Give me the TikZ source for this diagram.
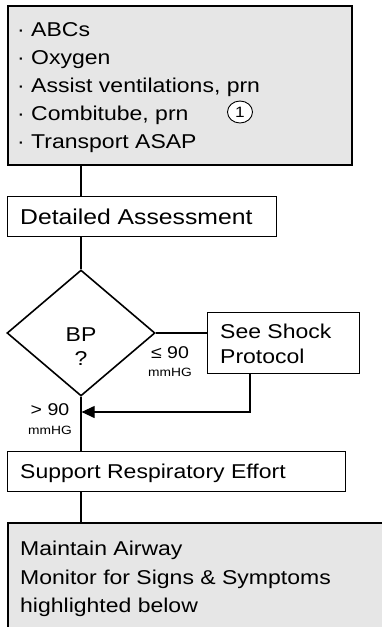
\documentclass[tikz,border=0pt]{standalone}
\usepackage{fontspec}
\setmainfont{Liberation Sans}[FakeStretch=1.15]
\usetikzlibrary{arrows.meta,shapes.geometric}
\definecolor{boxgray}{HTML}{E6E6E6}
\begin{document}
\begin{tikzpicture}[x=1pt,y=-1pt,
  thickbox/.style={draw=black, line width=2.2pt, fill=boxgray, rectangle, inner sep=0pt, anchor=north west},
  thinbox/.style={draw=black, line width=1.3pt, fill=white, rectangle, inner sep=0pt, anchor=north west},
  conn/.style={draw=black, line width=1.1pt},
  txt/.style={anchor=base west, inner sep=0pt, font=\fontsize{20}{24}\selectfont},
  ctxt/.style={anchor=base, inner sep=0pt, font=\fontsize{20}{24}\selectfont},
  small/.style={anchor=base, inner sep=0pt, font=\fontsize{12}{14}\selectfont},
  tip/.style={-{Triangle[length=13pt,width=12pt]}}]
\useasboundingbox (0,0) rectangle (382,627);
\clip (0,0) rectangle (382,627);
\coordinate (spine) at (81,0);
% top box
\node[thickbox, minimum width=344pt, minimum height=159pt] (top) at (7,5) {};
\node[txt] (t1) at (17,36) {· ABCs};
\node[txt] (t2) at (17,64) {· Oxygen};
\node[txt] (t3) at (17,92) {· Assist ventilations, prn};
\node[txt] (t4) at (17,120) {· Combitube, prn};
\node[txt] (t5) at (17,148) {· Transport ASAP};
\node[draw=black, line width=0.9pt, fill=white, ellipse, minimum width=25pt, minimum height=22pt, inner sep=0pt, font=\fontsize{15}{16}\selectfont] (c1) at (240,112) {1};
% detailed
\node[thinbox, minimum width=269pt, minimum height=40pt] (det) at (7,196) {};
\node[txt, font=\fontsize{21.5}{24}\selectfont] (dt) at (20,224) {Detailed Assessment};
% diamond
\node[draw=black, line width=1.6pt, fill=white, diamond, minimum width=148pt, minimum height=126pt, inner sep=0pt] (dia) at (81,333) {};
\node[ctxt] (bp) at (81,341) {BP};
\node[ctxt] (q) at (81,365) {?};
% shock
\node[thinbox, minimum width=152pt, minimum height=61pt] (shock) at (207,312) {};
\node[txt] (s1) at (220,338) {See Shock};
\node[txt] (s2) at (220,363) {Protocol};
\node[ctxt, font=\fontsize{17}{20}\selectfont] (le) at (170,358) {≤ 90};
\node[small] (lm) at (170,376) {mmHG};
\node[ctxt, font=\fontsize{17}{20}\selectfont] (gt) at (50,415) {> 90};
\node[small] (gm) at (50,434) {mmHG};
% support
\node[thinbox, minimum width=338pt, minimum height=40pt] (sup) at (7,451) {};
\node[txt] (st) at (20,478) {Support Respiratory Effort};
% bottom
\node[thickbox, minimum width=400pt, minimum height=130pt] (bot) at (7,522) {};
\node[txt] (b1) at (20,555) {Maintain Airway};
\node[txt] (b2) at (20,584) {Monitor for Signs \& Symptoms};
\node[txt] (b3) at (20,612) {highlighted below};
% connectors
\coordinate (sx) at (250,0);
\coordinate (ay) at (0,412);
\draw[conn] (top.south -| spine) -- (det.north -| spine);
\draw[conn] (det.south -| spine) -- (dia.north);
\draw[conn] (dia.east) -- (shock.west |- dia.east);
\draw[conn] (dia.south) -- (sup.north -| spine);
\draw[conn] (sup.south -| spine) -- (bot.north -| spine);
\draw[conn, tip] (shock.south -| sx) -- (sx |- ay) -- ([xshift=0.6pt]spine |- ay);
\end{tikzpicture}
\end{document}
